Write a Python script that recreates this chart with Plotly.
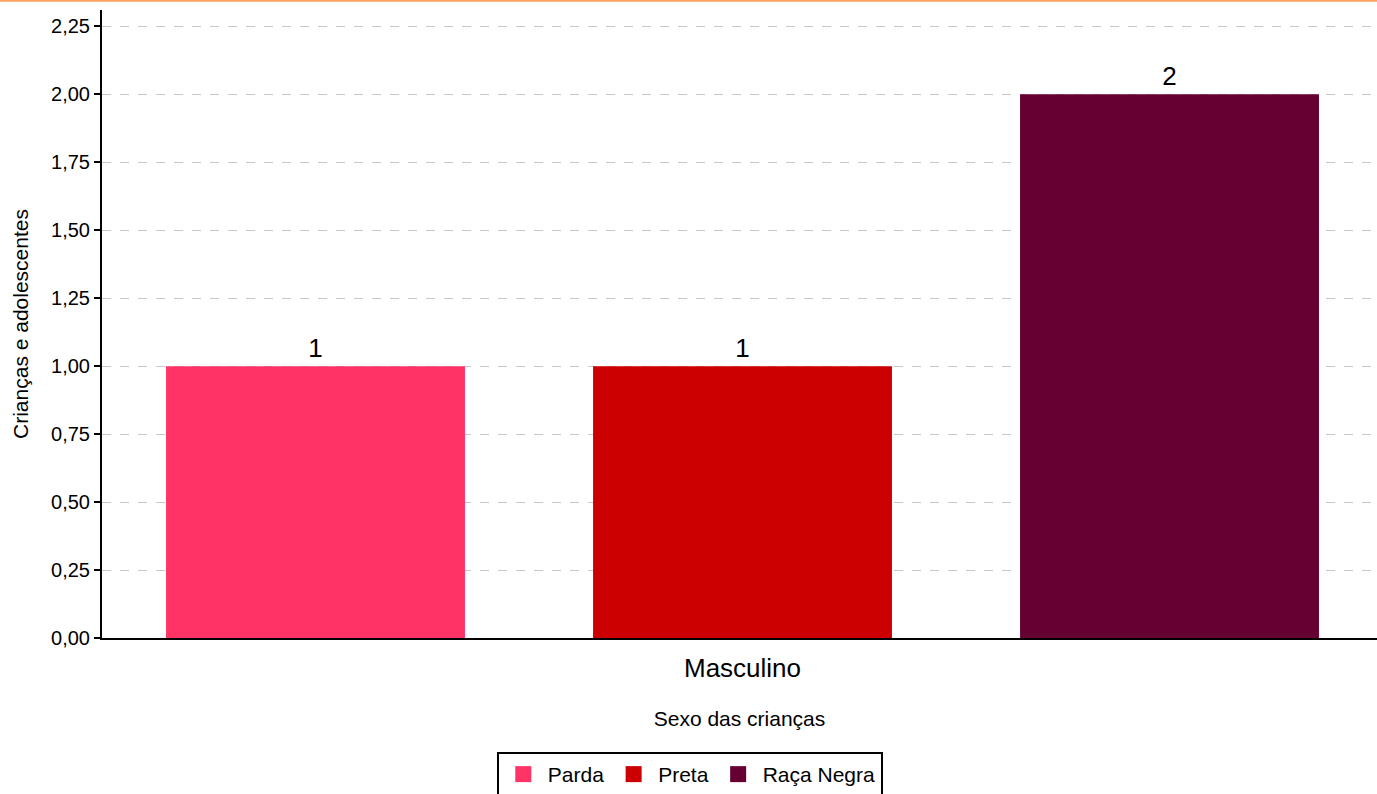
import plotly.graph_objects as go

categories = ["Masculino"]
series_names = ["Parda", "Preta", "Raça Negra"]
series_values = [[1], [1], [2]]
series_colors = ["#FF3366", "#CC0000", "#660033"]
y_ticks = [0, 0.25, 0.5, 0.75, 1.0, 1.25, 1.5, 1.75, 2.0, 2.25]

FONT = "Arial, Liberation Sans, sans-serif"

fig = go.Figure()
for name, vals, col in zip(series_names, series_values, series_colors):
    fig.add_trace(go.Bar(
        x=categories, y=vals, name=name, marker_color=col,
        marker_line_width=0, showlegend=False,
        text=[str(v) for v in vals], textposition="outside",
        textfont=dict(size=26, color="#000", family=FONT),
        cliponaxis=False,
    ))
# legend entries with larger square swatches
for name, col in zip(series_names, series_colors):
    fig.add_trace(go.Scatter(
        x=[None], y=[None], mode="markers", name=name,
        marker=dict(symbol="square", size=22, color=col),
        showlegend=True,
    ))

W, H = 1377, 794
ml, mr, mt, mb = 102, 0, 10, 156
pw = W - ml - mr
ph = H - mt - mb

fig.update_layout(
    width=W, height=H,
    margin=dict(l=ml, r=mr, t=mt, b=mb, autoexpand=False),
    paper_bgcolor="white", plot_bgcolor="white",
    barmode="group", bargap=0.0, bargroupgap=0.3,
    separators=",.",
    font=dict(family=FONT, color="#000"),
    showlegend=True,
    legend=dict(
        orientation="h", x=0.461, xanchor="center", y=-0.1815, yanchor="top",
        bordercolor="#000", borderwidth=2, font=dict(size=21, family=FONT),
        itemsizing="trace", itemwidth=39,
    ),
    xaxis=dict(
        type="category", range=[-0.5, 0.4953], automargin=False,
        showline=True, linecolor="#000", linewidth=2,
        ticks="", tickfont=dict(size=26, family=FONT), ticklabelstandoff=6,
        title=dict(text="Sexo das crianças", font=dict(size=21, family=FONT), standoff=29),
        showgrid=False, zeroline=False,
    ),
    yaxis=dict(
        range=[0, 2.31], tickvals=y_ticks, tickformat=".2f", automargin=False,
        showline=True, linecolor="#000", linewidth=2,
        ticks="outside", ticklen=6, tickwidth=2, tickcolor="#000",
        tickfont=dict(size=20, family=FONT),
        showgrid=True, gridcolor="#C8C8C8", griddash="dash", gridwidth=1,
        zeroline=False,
        title=dict(text="Crianças e adolescentes", font=dict(size=21, family=FONT), standoff=17),
    ),
    shapes=[dict(type="line", xref="paper", yref="paper",
                 x0=-ml / pw, x1=1, y0=1 + mt / ph - 0.001, y1=1 + mt / ph - 0.001,
                 line=dict(color="#FF9F5F", width=2))],
)

fig.write_html(
    "out.html",
    config={"displayModeBar": False},
    post_script="document.body.style.margin='0';document.body.style.overflow='hidden';",
)
